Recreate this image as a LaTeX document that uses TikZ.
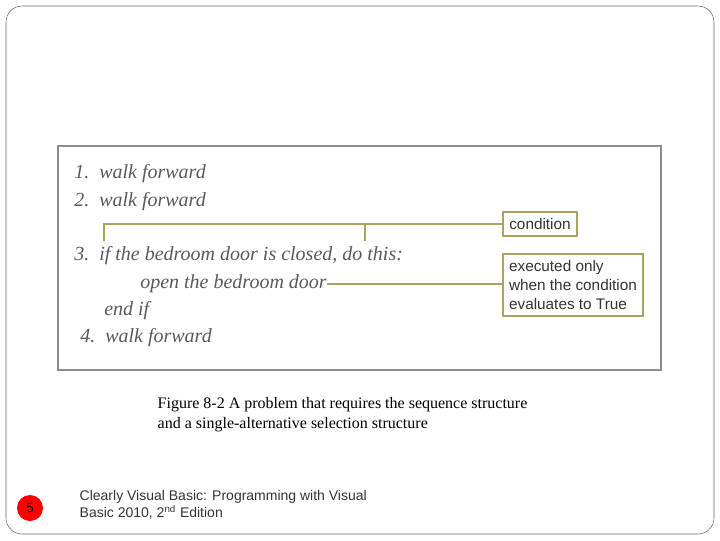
\documentclass[tikz,border=0pt]{standalone}
\usepackage{fontspec}
\setmainfont{Liberation Serif}
\setsansfont{Liberation Sans}
\begin{document}
\begin{tikzpicture}[x=0.75pt,y=-0.75pt,
  olive/.style={draw=ol,line width=1.6pt},
  hand/.style={anchor=west,text=black!65,font=\itshape\fontsize{15}{15}\selectfont,inner sep=0},
  note/.style={draw=ol,line width=1.6pt,inner sep=0,text=black!80,font=\sffamily\fontsize{11.5}{14.3}\selectfont}]
\definecolor{ol}{RGB}{172,162,92}
\useasboundingbox (0,0) rectangle (720,540);
\draw[black!60,rounded corners=12pt] (6,6) rectangle (714,534);
\draw[black!45,line width=1pt] (58,146) rectangle (661,370);
\node[hand] (l1) at (74,174) {1.\ \ walk forward};
\node[hand] (l2) at (74,202) {2.\ \ walk forward};
\node[hand] (l3) at (74,256) {3.\ \ if the bedroom door is closed, do this:};
\node[hand] (l4) at (140,284) {open the bedroom door};
\node[hand] (l5) at (104,311) {end if};
\node[hand] (l6) at (80,338) {4.\ \ walk forward};
\node[note,minimum width=74*0.75pt,minimum height=24*0.75pt] (c) at (540,224) {condition};
\node[note,minimum width=140*0.75pt,minimum height=62*0.75pt,align=left] (e) at (573,285) {executed only\\when the condition\\evaluates to True};
\coordinate (b1) at (104,241);
\coordinate (b2) at (365,241);
\draw[olive] (b1) |- (c.west);
\draw[olive] (b2) -- (365,224);
\draw[olive] (l4.east) -- (l4.east -| e.west);
\node[anchor=west,font=\fontsize{12}{15}\selectfont,align=left] (cap) at (153,415) {Figure 8-2 A problem that requires the sequence structure\\and a single-alternative selection structure};
\node[circle,fill=red,minimum size=26*0.75pt,inner sep=0,font=\sffamily\fontsize{10}{10}\selectfont] (n) at (30,508) {5};
\node[anchor=west,font=\sffamily\fontsize{10.5}{13}\selectfont,text=black!80,align=left] (f) at (75,505) {Clearly Visual Basic: Programming with Visual\\Basic 2010, 2\textsuperscript{nd} Edition};
\end{tikzpicture}
\end{document}
